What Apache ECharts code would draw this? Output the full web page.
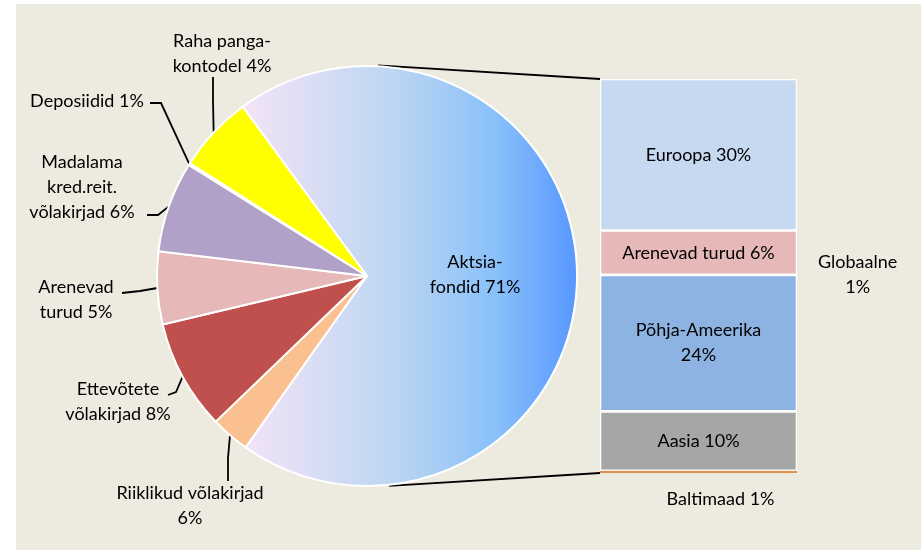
<!DOCTYPE html>
<html>
<head>
<meta charset="utf-8">
<script src="https://cdn.jsdelivr.net/npm/echarts@6/dist/echarts.min.js"></script>
<style>
	html, body { margin: 0; padding: 0; background: #fff; }
	#chart { width: 921px; height: 550px; }
</style>
</head>
<body>
<div id="chart"></div>
<script>
// pie slices, clockwise from the upper edge of the equity slice
const pieNames = ['Aktsia-\nfondid 71%', 'Riiklikud võlakirjad\n6%', 'Ettevõtete\nvõlakirjad 8%', 'Arenevad\nturud 5%', 'Madalama\nkred.reit.\nvõlakirjad 6%', 'Deposiidid 1%', 'Raha panga-\nkontodel 4%'];
const pieValues = [70.0, 3.0, 8.5, 5.6, 7.0, 0.15, 5.9];

// breakdown of the equity slice, bottom to top
const barNames = ['Baltimaad 1%', 'Aasia 10%', 'Põhja-Ameerika\n24%', 'Globaalne\n1%', 'Arenevad turud 6%', 'Euroopa 30%'];
const barValues = [0.4, 10.7, 24.6, 0, 8.0, 27.3];

// layout
const cx = 367, cy = 276, R = 210, startAng = 126.3;
const gridBox = { left: 600, top: 79, width: 197, height: 394 };
const labelSpots = [null, [190, 506], [118, 402], [76, 300], [82, 187], [87, 101], [222, 54]];
// elbow + end of each leader line (start is on the slice rim)
const leaderEnds = [null, [[228, 458], [228, 481]], [[176, 392], [168, 395]], [[140, 291], [122, 293]], [[158, 215], [147, 215]], [[161, 103], [150, 103]], [[213, 100], [213, 77]]];
const pieColors = [null, '#FAC090', '#C0504D', '#E6B9B8', '#B1A0C7', '#FFFFFF', '#FFFF00'];
const barColors = ['#E0904E', '#A6A6A6', '#8DB3E2', '#8DB3E2', '#E6B9B8', '#C6D9F1'];
const font = 'Lato, "Open Sans", sans-serif';

let chart = echarts.init(document.getElementById('chart'));

const equityFill = new echarts.graphic.LinearGradient(0, 0, 1, 0, [
	{ offset: 0, color: '#F4E4F6' },
	{ offset: 0.45, color: '#BDD6F2' },
	{ offset: 0.75, color: '#8AC1FA' },
	{ offset: 1, color: '#5797FF' },
]);

function rimPoint(deg, r) {
	let a = deg * Math.PI / 180;
	return [cx + r * Math.cos(a), cy - r * Math.sin(a)];
}

// middle angle of each slice
let pieSum = pieValues.reduce((a, b) => a + b, 0);
let midAngles = [];
let acc = 0;
pieValues.forEach(v => {
	midAngles.push(startAng - (acc + v / 2) / pieSum * 360);
	acc += v;
});

let pieData = pieNames.map((n, i) => {
	let item = { name: n, value: pieValues[i], itemStyle: { color: i === 0 ? equityFill : pieColors[i] } };
	if (i === 0) {
		item.label = { position: 'inside' };
		item.labelLine = { show: false };
	}
	return item;
});

let total = barValues.reduce((a, b) => a + b, 0);
let barSeries = barNames.map((n, i) => {
	let lbl = { show: true, position: 'inside', formatter: n, color: '#000', fontSize: 18, fontFamily: font, lineHeight: 25 };
	if (n.startsWith('Globaalne')) {
		lbl = Object.assign(lbl, { position: 'right', distance: 60, align: 'center' });
	}
	if (n.startsWith('Baltimaad')) {
		lbl = Object.assign(lbl, { position: 'bottom', distance: 14, offset: [22, 0] });
	}
	return {
		type: 'bar',
		name: n,
		stack: 'eq',
		barWidth: '100%',
		data: [barValues[i]],
		itemStyle: { color: barColors[i], borderColor: '#fff', borderWidth: n.startsWith('Baltimaad') ? 0 : 1.3 },
		label: lbl,
		silent: true,
	};
});

// connector lines between the pie and the bar
let pTop = rimPoint(87, R + 1), pBot = rimPoint(-84, R + 1);

let option = {
	backgroundColor: '#fff',
	animation: false,
	graphic: [
		{ type: 'rect', shape: { x: 16, y: 4, width: 905, height: 546 }, style: { fill: '#EDEAE0' }, z: -10 },
		{ type: 'line', shape: { x1: pTop[0], y1: pTop[1], x2: gridBox.left, y2: gridBox.top }, style: { stroke: '#000', lineWidth: 1.8 } },
		{ type: 'line', shape: { x1: pBot[0], y1: pBot[1], x2: gridBox.left, y2: gridBox.top + gridBox.height }, style: { stroke: '#000', lineWidth: 1.8 } },
	],
	grid: gridBox,
	xAxis: { type: 'category', data: ['Aktsiafondid'], show: false },
	yAxis: { type: 'value', min: 0, max: total, show: false },
	series: [
		{
			type: 'pie',
			center: [cx, cy],
			radius: R,
			startAngle: startAng,
			clockwise: true,
			itemStyle: { borderColor: '#fff', borderWidth: 2 },
			label: {
				show: true,
				color: '#000',
				fontSize: 18,
				fontFamily: font,
				lineHeight: 25,
				align: 'center',
			},
			labelLine: { show: true, length: 12, length2: 10, lineStyle: { color: '#000', width: 1.8 } },
			labelLayout(params) {
				let i = params.dataIndex;
				let p = labelSpots[i];
				if (!p) return {};
				return {
					x: p[0],
					y: p[1],
					align: 'center',
					verticalAlign: 'middle',
					labelLinePoints: [rimPoint(midAngles[i], R), leaderEnds[i][0], leaderEnds[i][1]],
				};
			},
			data: pieData,
			silent: true,
		},
		...barSeries,
	],
};
chart.setOption(option);
</script>
</body>
</html>
